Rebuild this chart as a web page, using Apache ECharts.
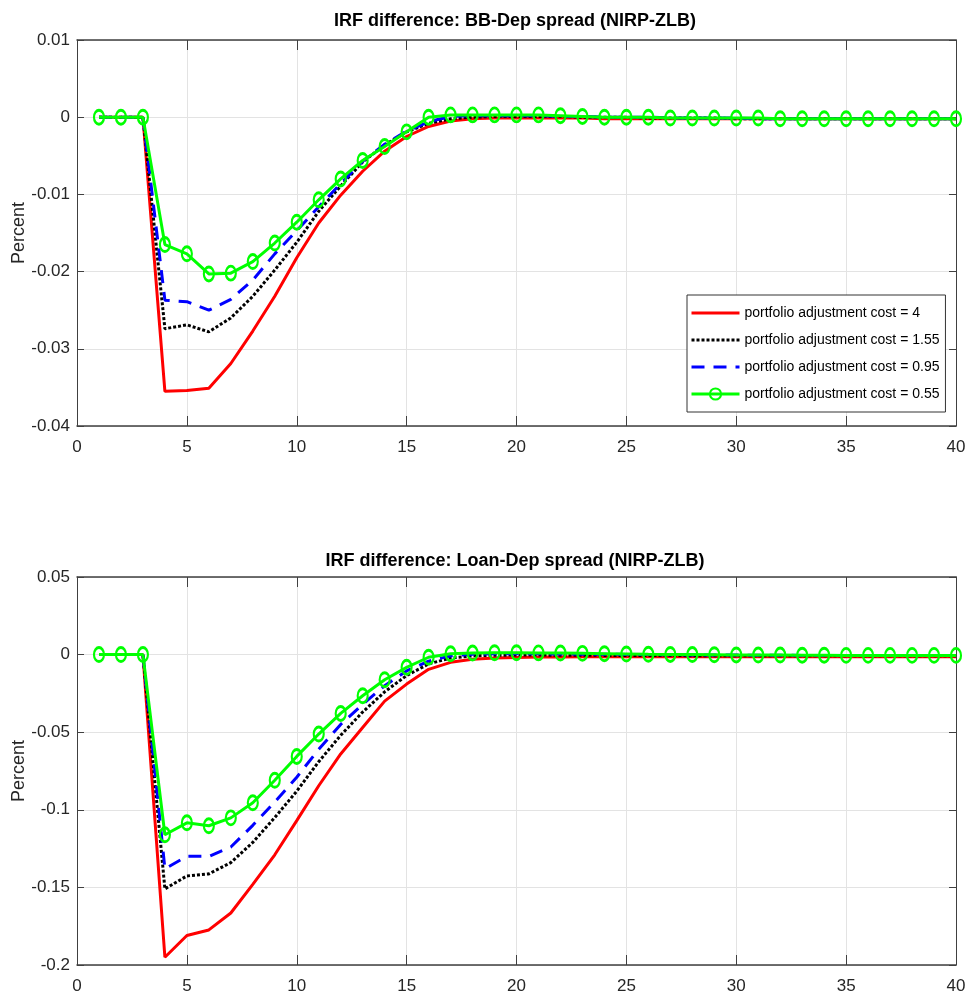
<!DOCTYPE html>
<html><head><meta charset="utf-8">
<script src="https://cdn.jsdelivr.net/npm/echarts@6/dist/echarts.min.js"></script>
<style>html,body{margin:0;padding:0;background:#fff}#c{width:969px;height:1004px}</style>
</head><body><div id="c"></div>
<script>
const periods = [1,2,3,4,5,6,7,8,9,10,11,12,13,14,15,16,17,18,19,20,21,22,23,24,25,26,27,28,29,30,31,32,33,34,35,36,37,38,39,40];
const seriesNames = ['portfolio adjustment cost = 4','portfolio adjustment cost = 1.55','portfolio adjustment cost = 0.95','portfolio adjustment cost = 0.55'];
const titles = ['IRF difference: BB-Dep spread (NIRP-ZLB)','IRF difference: Loan-Dep spread (NIRP-ZLB)'];
const yLabel = 'Percent';
const xTicks = {min:0,max:40,interval:5};
const yTicksTop = {min:-0.04,max:0.01,interval:0.01};
const yTicksBottom = {min:-0.2,max:0.05,interval:0.05};

// BB-Dep spread
const bbRed = [0,0,0,-0.0355,-0.0354,-0.0351,-0.0319,-0.0277,-0.0232,-0.0182,-0.0137,-0.0101,-0.0070,-0.0044,-0.0025,-0.0012,-0.0005,-0.0002,-0.0001,-0.0001,-0.0001,-0.0001,-0.0001,-0.0002,-0.0002,-0.0002,-0.0002,-0.0002,-0.0002,-0.0002,-0.0002,-0.0002,-0.0002,-0.0002,-0.0002,-0.0002,-0.0002,-0.0002,-0.0002,-0.0002];
const bbBlack = [0,0,0,-0.0274,-0.0269,-0.0278,-0.0260,-0.0232,-0.0198,-0.0162,-0.0122,-0.0089,-0.0058,-0.0036,-0.0019,-0.0008,-0.0002,0.0000,0.0001,0.0001,0.0001,0.0001,0.0000,0.0000,0.0000,-0.0001,-0.0001,-0.0001,-0.0001,-0.0002,-0.0002,-0.0002,-0.0002,-0.0002,-0.0002,-0.0002,-0.0002,-0.0002,-0.0002,-0.0002];
const bbBlue = [0,0,0,-0.0237,-0.0239,-0.0250,-0.0236,-0.0211,-0.0177,-0.0147,-0.0116,-0.0086,-0.0057,-0.0035,-0.0018,-0.0006,0.0001,0.0002,0.0002,0.0002,0.0002,0.0001,0.0001,0.0000,0.0000,0.0000,-0.0001,-0.0001,-0.0001,-0.0001,-0.0002,-0.0002,-0.0002,-0.0002,-0.0002,-0.0002,-0.0002,-0.0002,-0.0002,-0.0002];
const bbGreen = [0,0,0,-0.0165,-0.0177,-0.0203,-0.0202,-0.0187,-0.0163,-0.0136,-0.0107,-0.0080,-0.0056,-0.0038,-0.0019,0.0000,0.0003,0.0003,0.0003,0.0003,0.0003,0.0002,0.0001,0.0000,0.0000,0.0000,-0.0001,-0.0001,-0.0001,-0.0001,-0.0001,-0.0002,-0.0002,-0.0002,-0.0002,-0.0002,-0.0002,-0.0002,-0.0002,-0.0002];

// Loan-Dep spread
const ldRed = [0,0,0,-0.195,-0.181,-0.1774,-0.1665,-0.148,-0.129,-0.107,-0.0845,-0.064,-0.047,-0.030,-0.019,-0.0095,-0.005,-0.003,-0.0022,-0.0018,-0.0016,-0.0015,-0.0014,-0.0014,-0.0014,-0.0014,-0.0014,-0.0014,-0.0014,-0.0014,-0.0014,-0.0014,-0.0014,-0.0014,-0.0014,-0.0014,-0.0014,-0.0014,-0.0014,-0.0014];
const ldBlack = [0,0,0,-0.151,-0.1426,-0.1413,-0.134,-0.121,-0.105,-0.088,-0.069,-0.052,-0.037,-0.024,-0.0135,-0.006,-0.0022,-0.0008,-0.0004,-0.0003,-0.0003,-0.0004,-0.0004,-0.0005,-0.0005,-0.0006,-0.0006,-0.0007,-0.0007,-0.0008,-0.0008,-0.0008,-0.0008,-0.0008,-0.0008,-0.0008,-0.0008,-0.0008,-0.0008,-0.0008];
const ldBlue = [0,0,0,-0.138,-0.130,-0.130,-0.124,-0.110,-0.095,-0.079,-0.061,-0.045,-0.032,-0.020,-0.0105,-0.0042,-0.0008,0.0003,0.0005,0.0005,0.0005,0.0004,0.0003,0.0002,0.0001,0.0000,-0.0001,-0.0002,-0.0003,-0.0003,-0.0004,-0.0004,-0.0005,-0.0005,-0.0005,-0.0006,-0.0006,-0.0006,-0.0006,-0.0006];
const ldGreen = [0,0,0,-0.1161,-0.1084,-0.1103,-0.1052,-0.0955,-0.081,-0.0656,-0.0512,-0.0379,-0.0265,-0.0162,-0.0082,-0.0017,0.0005,0.0010,0.0012,0.0012,0.0011,0.0010,0.0008,0.0006,0.0004,0.0002,0.0001,0.0000,-0.0001,-0.0002,-0.0003,-0.0003,-0.0004,-0.0004,-0.0005,-0.0005,-0.0005,-0.0005,-0.0005,-0.0005];

const SANS = '"Liberation Sans", Arial, sans-serif';
const AX = '#404040';

function pairs(arr){ return periods.map((p,i)=>[p, arr[i]]); }

const grids = [
  {left:77, right:13, top:40, height:386, outerBoundsMode:'none', containLabel:false},
  {left:77, right:13, top:577, height:388, outerBoundsMode:'none', containLabel:false}
];

const xAxes = [], yAxes = [];
[0,1].forEach(g=>{
  xAxes.push({type:'value', gridIndex:g, position:'bottom', min:xTicks.min, max:xTicks.max, interval:xTicks.interval,
    axisLine:{show:true, onZero:false, lineStyle:{color:AX, width:1.5}},
    axisTick:{show:true, inside:true, length:10, lineStyle:{color:AX}},
    axisLabel:{show:true, margin:13, fontFamily:SANS, fontSize:17, color:'#262626'},
    splitLine:{show:true, lineStyle:{color:'#e3e3e3', width:1}}});
  xAxes.push({type:'value', gridIndex:g, position:'top', min:xTicks.min, max:xTicks.max, interval:xTicks.interval,
    axisLine:{show:true, onZero:false, lineStyle:{color:AX, width:1.5}},
    axisTick:{show:true, inside:true, length:10, lineStyle:{color:AX}},
    axisLabel:{show:false}, splitLine:{show:false}});
  const yt = g===0 ? yTicksTop : yTicksBottom;
  yAxes.push({type:'value', gridIndex:g, position:'left', min:yt.min, max:yt.max, interval:yt.interval,
    name:yLabel, nameLocation:'middle', nameGap:49, nameRotate:90, nameMoveOverlap:false,
    nameTextStyle:{fontFamily:SANS, fontSize:18, color:'#262626'},
    axisLine:{show:true, onZero:false, lineStyle:{color:AX, width:1}},
    axisTick:{show:true, inside:true, length:7, lineStyle:{color:AX}},
    axisLabel:{show:true, margin:7, fontFamily:SANS, fontSize:17, color:'#262626'},
    splitLine:{show:true, lineStyle:{color:'#e3e3e3', width:1}}});
  yAxes.push({type:'value', gridIndex:g, position:'right', min:yt.min, max:yt.max, interval:yt.interval,
    axisLine:{show:true, onZero:false, lineStyle:{color:AX, width:1}},
    axisTick:{show:true, inside:true, length:7, lineStyle:{color:AX}},
    axisLabel:{show:false}, splitLine:{show:false}});
});

const styles = [
  {color:'#ff0000', type:'solid'},
  {color:'#000000', type:[3,2]},
  {color:'#0000ff', type:[13,9]},
  {color:'#00ff00', type:'solid'}
];
const sets = [[bbRed,bbBlack,bbBlue,bbGreen],[ldRed,ldBlack,ldBlue,ldGreen]];
const series = [];
sets.forEach((set,g)=>{
  set.forEach((arr,k)=>{
    const st = styles[k];
    const s = {type:'line', name:seriesNames[k], xAxisIndex:g*2, yAxisIndex:g*2, data:pairs(arr),
      lineStyle:{color:st.color, width:3, type:st.type}, z:2+k, animation:false,
      emphasis:{disabled:true}, silent:true};
    if(k===3){
      s.symbol='circle'; s.symbolSize=[10,14]; s.showSymbol=true;
      s.itemStyle={color:'rgba(255,255,255,0)', borderColor:st.color, borderWidth:2.5};
    } else {
      s.symbol='none'; s.showSymbol=false;
      s.itemStyle={color:'rgba(0,0,0,0)', borderWidth:0, borderColor:'rgba(0,0,0,0)'};
    }
    series.push(s);
  });
});

const option = {
  backgroundColor:'#fff',
  animation:false,
  title: titles.map((t,i)=>({text:t, left:510, top:i===0?7:547, textAlign:'center',
    textStyle:{fontFamily:SANS, fontWeight:'bold', fontSize:18, color:'#000'}})),
  grid: grids,
  xAxis: xAxes,
  yAxis: yAxes,
  legend: {show:true, orient:'vertical', left:687, top:295, itemWidth:48, itemHeight:14, itemGap:13,
    padding:[11,6,11,3], borderColor:'#333', borderWidth:1, backgroundColor:'#fff',
    lineStyle:{width:3},
    textStyle:{fontFamily:SANS, fontSize:14, color:'#000'},
    data:seriesNames},
  series: series
};
const chart = echarts.init(document.getElementById('c'), null, {renderer:'canvas'});
chart.setOption(option);
</script></body></html>
